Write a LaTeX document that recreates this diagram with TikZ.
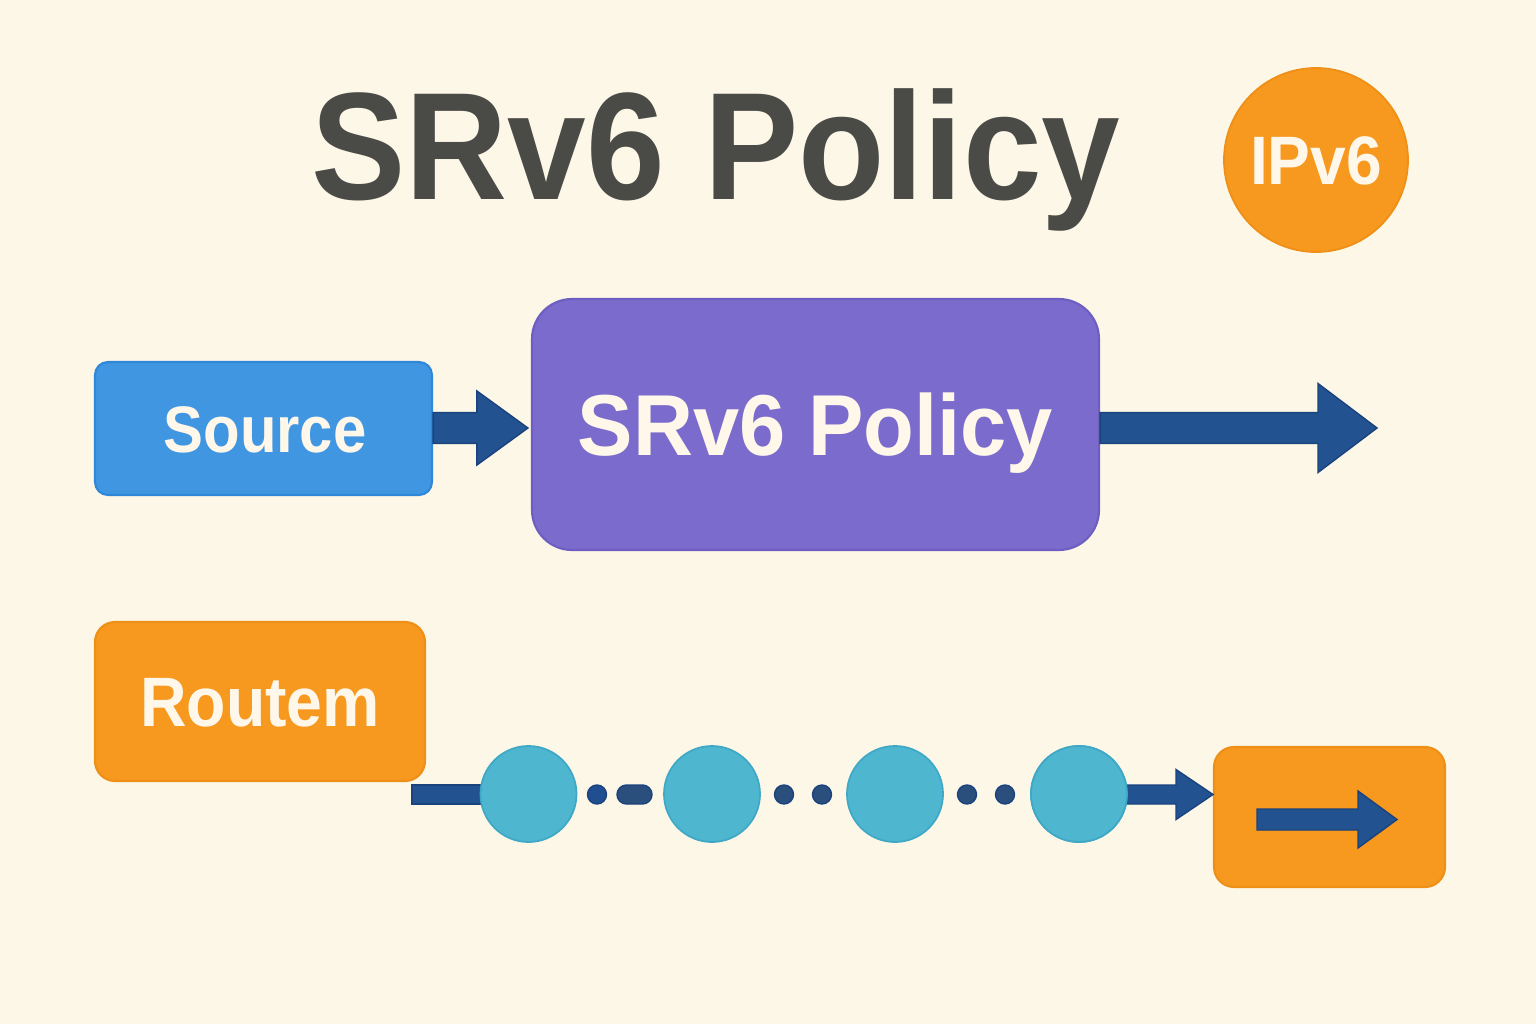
\documentclass[tikz,border=0pt]{standalone}
\usepackage{fontspec}
\setmainfont{Liberation Sans}
\usetikzlibrary{calc}
\newdimen\px \px=0.01cm
\definecolor{bgc}{HTML}{FDF7E8}
\definecolor{titlec}{HTML}{4A4A47}
\definecolor{bluec}{HTML}{4196E1}
\definecolor{blueb}{HTML}{2F87D8}
\definecolor{purpc}{HTML}{7B6BCC}
\definecolor{purpb}{HTML}{6E5EC2}
\definecolor{orc}{HTML}{F7981F}
\definecolor{orb}{HTML}{EE9018}
\definecolor{tealc}{HTML}{4FB6CF}
\definecolor{tealb}{HTML}{3FA8C6}
\definecolor{arrc}{HTML}{22528F}
\definecolor{arrb}{HTML}{1A437E}
\definecolor{dotc}{HTML}{2B4F7D}
\definecolor{dotc1}{HTML}{1F4F90}
\definecolor{txtc}{HTML}{FFF8EA}
\newcommand{\blockarr}[5]{% start, end, shaft half, head half, head length
  \filldraw[fill=arrc,draw=arrb,line width=0.4pt,line join=miter]
    ($(#1)+(0,-#3)$) -- ($(#2)+(-#5,-#3)$) -- ($(#2)+(-#5,-#4)$) -- (#2)
    -- ($(#2)+(-#5,#4)$) -- ($(#2)+(-#5,#3)$) -- ($(#1)+(0,#3)$) -- cycle;}
\begin{document}
\begin{tikzpicture}[x=0.01cm,y=-0.01cm,
  boxtxt/.style={text=txtc,font=\bfseries,inner sep=0pt,text depth=0pt,align=center},
  rbox/.style={boxtxt,rounded corners=#1\px,line width=0.6pt},
  teal/.style={circle,fill=tealc,draw=tealb,line width=0.5pt,minimum size=96\px,inner sep=0pt},
  dotn/.style={circle,fill=dotc,draw=arrb,line width=0.4pt,minimum size=19\px,inner sep=0pt}]
\fill[bgc] (0,0) rectangle (1536,1024);
\useasboundingbox (0,0) rectangle (1536,1024);

% title
\node[font=\bfseries\fontsize{43.5pt}{43.5pt}\selectfont,text=titlec,anchor=base,inner sep=0pt]
  (title) at (716,199) {\scalebox{0.924}[1]{SRv6 Policy}};

% IPv6 badge
\node[circle,fill=orc,draw=orb,line width=0.5pt,minimum size=184\px,inner sep=0pt,
  boxtxt,font=\bfseries\fontsize{19.5pt}{19.5pt}\selectfont,text height=49\px]
  (ipv6) at (1316,160) {\scalebox{0.935}[1]{IPv6}};

% Source
\node[rbox=13,fill=bluec,draw=blueb,minimum width=337\px,minimum height=133\px,
  font=\bfseries\fontsize{18.7pt}{18.7pt}\selectfont,text height=47\px]
  (src) at (263.5,428.5) {\hspace*{3\px}\scalebox{0.91}[1]{Source}};

% SRv6 Policy box
\node[rbox=40,fill=purpc,draw=purpb,minimum width=567\px,minimum height=251\px,
  font=\bfseries\fontsize{24.6pt}{24.6pt}\selectfont,text height=62\px]
  (pol) at (815.5,424.5) {\scalebox{0.96}[1]{SRv6 Policy}};

% Routem
\node[rbox=20,fill=orc,draw=orb,minimum width=330\px,minimum height=159\px,
  font=\bfseries\fontsize{19.9pt}{19.9pt}\selectfont,text height=50\px]
  (rt) at (260,701.5) {\scalebox{0.92}[1]{Routem}};

% destination box
\node[rbox=20,fill=orc,draw=orb,minimum width=231\px,minimum height=140\px] (dst) at (1329.5,817) {};

% arrows top
\coordinate (a1s) at ($(src.east)+(0,-0.5)$);
\coordinate (a1e) at ($(pol.west)+(-3,3.5)$);
\blockarr{a1s}{a1e}{15.5}{37}{51}
\coordinate (a2s) at ($(pol.east)+(0,3.5)$);
\coordinate (a2e) at (1377,428);
\blockarr{a2s}{a2e}{15.5}{44.5}{59}

% bottom chain
\coordinate (ls) at (412,794.5);
\filldraw[fill=arrc,draw=arrb,line width=0.4pt] ($(ls)+(0,-9.5)$) rectangle (528.5,804);
\node[teal] (c1) at (528.5,794) {};
\node[teal] (c2) at (712,794) {};
\node[teal] (c3) at (895,794) {};
\node[teal] (c4) at (1079,794) {};
\node[dotn,fill=dotc1] (d1) at (597,794.5) {};
\node[fill=dotc,draw=arrb,line width=0.4pt,rounded corners=9.5\px,minimum width=35\px,minimum height=19\px,inner sep=0pt] (pill) at (634.5,794.5) {};
\node[dotn] (d2) at (784,794.5) {};
\node[dotn] (d3) at (822,794.5) {};
\node[dotn] (d4) at (967,794.5) {};
\node[dotn] (d5) at (1005,794.5) {};
\coordinate (a3e) at (1213,794.5);
\coordinate (a3s) at ($(c4.center)+(0,0.5)$);
\blockarr{a3s}{a3e}{9.5}{25}{37}
\node[teal] at (c4) {};

% inner arrow
\coordinate (a4s) at ($(dst.center)+(-72.5,2.5)$);
\coordinate (a4e) at ($(dst.center)+(67.5,2.5)$);
\blockarr{a4s}{a4e}{10.5}{28.5}{39}
\end{tikzpicture}
\end{document}
